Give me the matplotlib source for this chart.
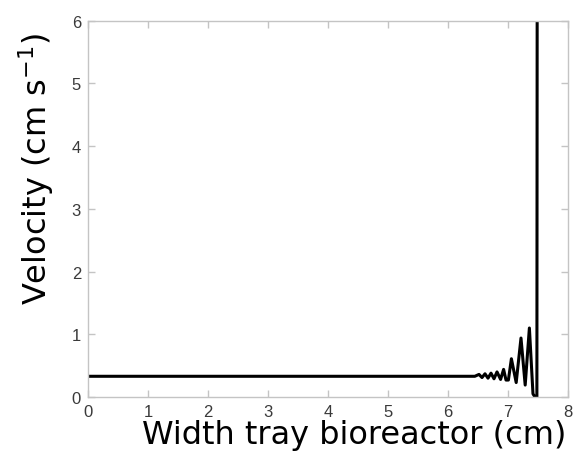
import matplotlib
matplotlib.use('Agg')
import matplotlib.pyplot as plt

# velocity profile across the tray
width_cm = [0.0, 6.45, 6.52, 6.57, 6.62, 6.67, 6.72, 6.77, 6.82, 6.88, 6.93,
            6.97, 7.01, 7.06, 7.14, 7.22, 7.29, 7.36, 7.42, 7.485, 7.49]
velocity = [0.33, 0.33, 0.36, 0.31, 0.37, 0.30, 0.38, 0.29, 0.40, 0.28, 0.44,
            0.27, 0.27, 0.61, 0.23, 0.94, 0.19, 1.10, 0.05, -0.05, 6.5]

x_ticks = [0, 1, 2, 3, 4, 5, 6, 7, 8]
y_ticks = [0, 1, 2, 3, 4, 5, 6]

plt.rcParams['font.family'] = ['Liberation Sans', 'DejaVu Sans']

fig = plt.figure(figsize=(5.77, 4.52), dpi=100)
ax = fig.add_axes([0.1525, 0.1195, 0.8315, 0.8325])
ax.plot(width_cm, velocity, color='black', lw=2.2, solid_joinstyle='round')

ax.set_xlim(0, 8)
ax.set_ylim(0, 6)
ax.set_xticks(x_ticks)
ax.set_yticks(y_ticks)
for s in ax.spines.values():
    s.set_color('#c4c4c4')
    s.set_linewidth(1.0)
ax.tick_params(direction='in', length=5, width=1, color='#c4c4c4',
               top=True, right=True, labelsize=12, labelcolor='#3a3a3a', pad=5)

ax.set_xlabel('Width tray bioreactor (cm)', fontsize=23, family='DejaVu Sans')
ax.xaxis.set_label_coords(0.555, -0.058)
ax.set_ylabel('Velocity (cm s$^{-1}$)', fontsize=23, family='DejaVu Sans')
ax.yaxis.set_label_coords(-0.066, 0.61)

fig.savefig('out.png', dpi=100)
